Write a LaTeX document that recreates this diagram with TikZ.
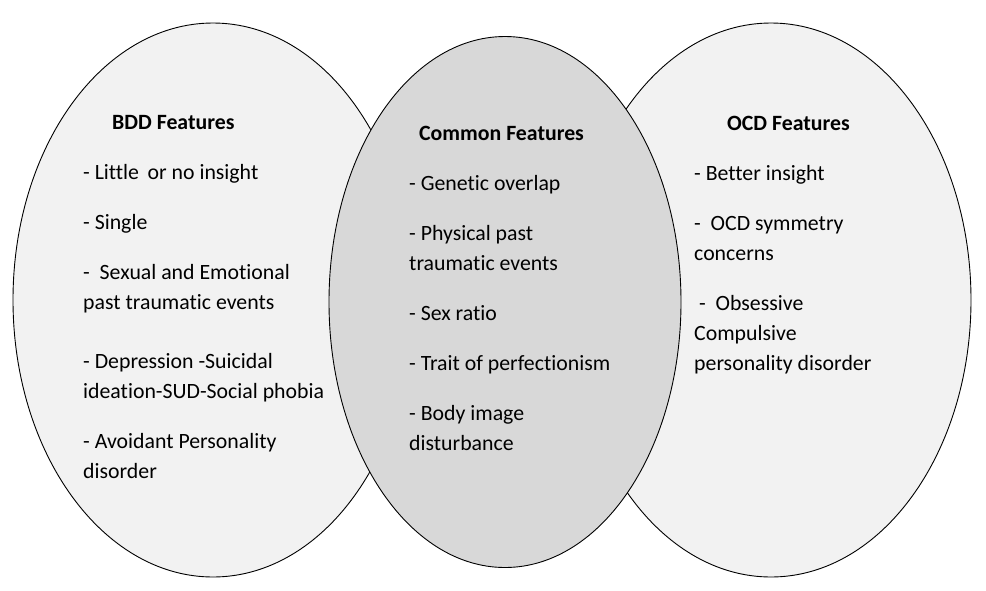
\documentclass[tikz,border=0pt]{standalone}
\usepackage{fontspec}
\setmainfont{Carlito}[Ligatures=NoCommon]
\usepackage{tikz}
\usetikzlibrary{shapes.geometric}
\definecolor{sidegray}{RGB}{242,242,242}
\definecolor{midgray}{RGB}{216,216,216}
\tikzset{
    % the three sets
    setshape/.style={
        ellipse,
        draw=black,
        line width=0.9pt,
        inner sep=0pt
    },
    sideset/.style={setshape, fill=sidegray, minimum width=400pt, minimum height=554pt},
    midset/.style={setshape, fill=midgray, minimum width=352pt, minimum height=531pt},
    % texts inside the sets (base = baseline of the last line)
    feature/.style={
        anchor=base west,
        align=left,
        inner sep=0pt,
        font=\fontsize{21.8}{30}\selectfont
    },
    settitle/.style={feature, font=\fontsize{21.8}{30}\selectfont\bfseries}
}

\begin{document}
\begin{tikzpicture}[x=1pt, y=-1pt]
	\useasboundingbox (0,0) rectangle (986,590);

	\node [sideset] (bdd) at (213,300) {};
	\node [sideset] (ocd) at (771,300) {};
	\node [midset] (common) at (505,302) {};

	% BDD
	\node [settitle] (bddtitle) at (112,129) {BDD Features};
	\node [feature] (bdda) at (83,179) {- Little\, or no insight};
	\node [feature] (bddb) at (83,229) {- Single};
	\node [feature] (bddc) at (83,309) {-~ Sexual and Emotional\\past traumatic events};
	\node [feature] (bddd) at (83,398) {- Depression -Suicidal\\ideation-SUD-Social phobia};
	\node [feature] (bdde) at (83,478) {- Avoidant Personality\\disorder};

	% common
	\node [settitle] (comtitle) at (419,140) {Common Features};
	\node [feature] (coma) at (409,190) {- Genetic overlap};
	\node [feature] (comb) at (409,270) {- Physical past\\traumatic events};
	\node [feature] (comc) at (409,320) {- Sex ratio};
	\node [feature] (comd) at (409,370) {- Trait of perfectionism};
	\node [feature] (come) at (409,450) {- Body image\\disturbance};

	% OCD
	\node [settitle] (ocdtitle) at (727,130) {OCD Features};
	\node [feature] (ocda) at (694,180) {- Better insight};
	\node [feature] (ocdb) at (694,260) {-~ OCD symmetry\\concerns};
	\node [feature] (ocdc) at (694,370) {~-~ Obsessive\\Compulsive\\personality disorder};
\end{tikzpicture}
\end{document}
